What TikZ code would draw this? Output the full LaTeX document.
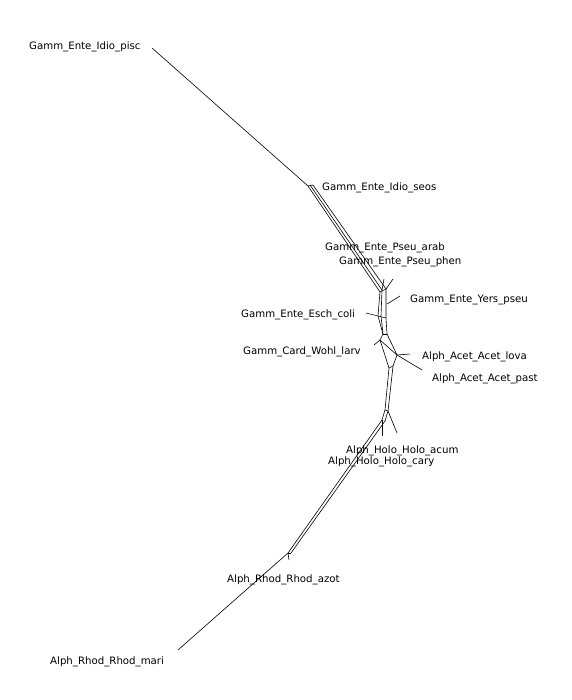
\documentclass[tikz,border=0pt]{standalone}
\usepackage{fontspec}
\setmainfont{DejaVu Sans}
\begin{document}
\begin{tikzpicture}[x=1pt,y=-1pt,
  edge/.style={draw=black,line width=0.6pt,line join=round},
  lab/.style={anchor=base west,inner sep=0pt,font=\fontsize{10.2}{12}\selectfont}]
\useasboundingbox (0,0) rectangle (571,700);
% labels
\node[lab] (pisc) at (29,50) {Gamm\_Ente\_Idio\_pisc};
\node[lab] (seos) at (322,191) {Gamm\_Ente\_Idio\_seos};
\node[lab] (arab) at (325,251) {Gamm\_Ente\_Pseu\_arab};
\node[lab] (phen) at (339,265) {Gamm\_Ente\_Pseu\_phen};
\node[lab] (yers) at (410,302) {Gamm\_Ente\_Yers\_pseu};
\node[lab] (esch) at (241,317) {Gamm\_Ente\_Esch\_coli};
\node[lab] (wohl) at (243,354) {Gamm\_Card\_Wohl\_larv};
\node[lab] (lova) at (422,359) {Alph\_Acet\_Acet\_lova};
\node[lab] (past) at (432,381) {Alph\_Acet\_Acet\_past};
\node[lab] (acum) at (346,453) {Alph\_Holo\_Holo\_acum};
\node[lab] (cary) at (328,464) {Alph\_Holo\_Holo\_cary};
\node[lab] (azot) at (227,582) {Alph\_Rhod\_Rhod\_azot};
\node[lab] (mari) at (50,664) {Alph\_Rhod\_Rhod\_mari};
% network vertices
\coordinate (lp) at (152,48);
\coordinate (t1) at (308,186);
\coordinate (t2) at (310,185);
\coordinate (t3) at (313,185);
\coordinate (q1) at (380,292);
\coordinate (q2) at (382,290);
\coordinate (q3) at (386,289);
\coordinate (c1) at (378,316);
\coordinate (c2) at (381,316);
\coordinate (c3) at (386,318);
\coordinate (d1) at (383,334);
\coordinate (d2) at (387,334);
\coordinate (w1) at (380,340);
\coordinate (a1) at (397,355);
\coordinate (a2) at (393,366);
\coordinate (a3) at (389,368);
\coordinate (h1) at (385,410);
\coordinate (h2) at (388,411);
\coordinate (h3) at (382,420);
\coordinate (h4) at (385,421);
\coordinate (r1) at (288,553);
\coordinate (r2) at (291,553);
% leaf ends
\coordinate (earab) at (384,279);
\coordinate (ephen) at (393,279);
\coordinate (eyers) at (400,296);
\coordinate (eesch) at (366,313);
\coordinate (ewohl) at (374,345);
\coordinate (elova) at (410,354);
\coordinate (epast) at (422,370);
\coordinate (eacum) at (397,433);
\coordinate (ecary) at (382,436);
\coordinate (eazot) at (289,560);
\coordinate (emari) at (178,650);
% top band
\draw[edge] (lp) -- (t1);
\draw[edge] (t1) -- (t3);
\draw[edge] (t1) -- (q1);
\draw[edge] (t2) -- (q2);
\draw[edge] (t3) -- (q3);
\draw[edge] (q1) -- (q3);
% center
\draw[edge] (q1) -- (c1) -- (d1) -- (w1) -- (a3) -- (h1);
\draw[edge] (q2) -- (c2) -- (d1);
\draw[edge] (q3) -- (c3) -- (d2) -- (a1) -- (a2) -- (h2);
\draw[edge] (c1) -- (c3);
\draw[edge] (d1) -- (d2);
\draw[edge] (w1) -- (a1);
\draw[edge] (a2) -- (a3);
\draw[edge] (h1) -- (h3);
\draw[edge] (h2) -- (h4);
\draw[edge] (h1) -- (h2);
% bottom band
\draw[edge] (h3) -- (r1);
\draw[edge] (h4) -- (r2);
\draw[edge] (r1) -- (r2);
% leaves
\draw[edge] (q2) -- (earab);
\draw[edge] (q3) -- (ephen);
\draw[edge] (c3) ++(1,-14) coordinate (y0);
\draw[edge] (y0) -- (eyers);
\draw[edge] (c1) -- (eesch);
\draw[edge] (w1) -- (ewohl);
\draw[edge] (a1) -- (elova);
\draw[edge] (a1) -- (epast);
\draw[edge] (h2) -- (eacum);
\draw[edge] (h3) -- (ecary);
\draw[edge] (r1) -- (eazot);
\draw[edge] (r1) -- (emari);
\end{tikzpicture}
\end{document}
